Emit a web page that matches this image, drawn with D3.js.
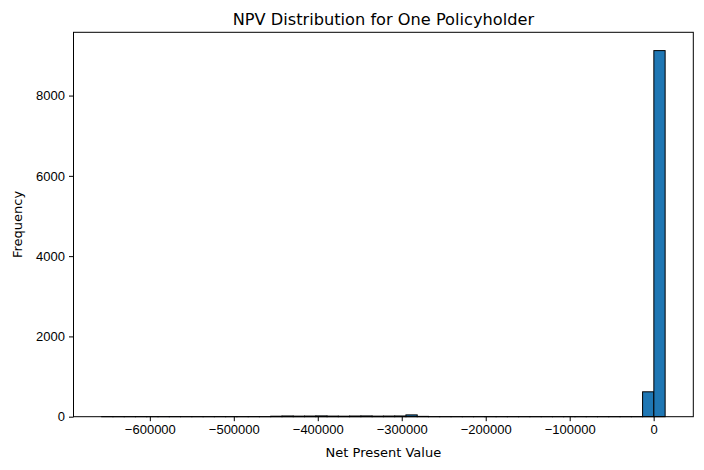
<!DOCTYPE html>
<html>
<head>
<meta charset="utf-8">
<script src="https://cdn.jsdelivr.net/npm/d3@7"></script>
<style>
  body { margin: 0; background: #fff; }
  svg { display: block; font-family: "DejaVu Sans", sans-serif; }
  .tick text { font-size: 13px; fill: #000; }
  .tick line { stroke: #000; }
</style>
</head>
<body>
<div id="chart"></div>
<script>
// histogram: 50 bins between xMin and xMax
const xMin = -657350;
const xMax = 13650;
const counts = [
    1, 0, 0, 1, 0, 0, 1, 0, 0, 0, 1, 0, 0, 1, 0,
    12, 18, 14, 16, 20, 15, 13, 17, 19, 14, 16, 18, 45, 8,
    0, 0, 0, 0, 0, 0, 0, 0, 0, 0, 0, 0, 0, 0, 0, 0, 0, 0, 0,
    620, 9120
];
const xTicks = [-600000, -500000, -400000, -300000, -200000, -100000, 0];
const yTicks = [0, 2000, 4000, 6000, 8000];

const width = 704;
const height = 470;
const margin = { top: 32.3, right: 10.7, bottom: 53.3, left: 73.5 };

const binWidth = (xMax - xMin) / counts.length;
const bins = counts.map((c, i) => ({ x0: xMin + i * binWidth, x1: xMin + (i + 1) * binWidth, n: c }));

const svg = d3.select("#chart")
    .append("svg")
    .attr("width", width)
    .attr("height", height);

// matplotlib style 5% padding
const pad = (xMax - xMin) * 0.05;
const xScale = d3.scaleLinear()
    .domain([xMin - pad, xMax + pad])
    .range([margin.left, width - margin.right]);

const yScale = d3.scaleLinear()
    .domain([0, d3.max(counts) * 1.05])
    .range([height - margin.bottom, margin.top]);

const fmt = d => d < 0 ? "\u2212" + Math.abs(d) : String(d);

svg.append("g")
    .attr("transform", `translate(0, ${height - margin.bottom})`)
    .call(d3.axisBottom(xScale).tickValues(xTicks).tickFormat(fmt).tickSize(4.5).tickPadding(4).tickSizeOuter(0))
    .call(g => g.select(".domain").remove());

svg.append("g")
    .attr("transform", `translate(${margin.left}, 0)`)
    .call(d3.axisLeft(yScale).tickValues(yTicks).tickFormat(d => String(d)).tickSize(4.5).tickPadding(4).tickSizeOuter(0))
    .call(g => g.select(".domain").remove());

svg.selectAll(".tick line").attr("stroke-width", 1);

svg.append("g")
    .selectAll("rect")
    .data(bins)
    .join("rect")
    .attr("x", d => xScale(d.x0))
    .attr("width", d => xScale(d.x1) - xScale(d.x0))
    .attr("y", d => yScale(d.n))
    .attr("height", d => Math.max(yScale(0) - yScale(d.n), 0.01))
    .attr("fill", "#1f77b4")
    .attr("stroke", "#000")
    .attr("stroke-width", 1);

// frame
svg.append("rect")
    .attr("x", margin.left)
    .attr("y", margin.top)
    .attr("width", width - margin.left - margin.right)
    .attr("height", height - margin.top - margin.bottom)
    .attr("fill", "none")
    .attr("stroke", "#000")
    .attr("stroke-width", 1);

svg.append("text")
    .attr("x", (margin.left + width - margin.right) / 2)
    .attr("y", 25)
    .attr("text-anchor", "middle")
    .attr("font-size", 16.2)
    .text("NPV Distribution for One Policyholder");

svg.append("text")
    .attr("x", (margin.left + width - margin.right) / 2)
    .attr("y", 457)
    .attr("text-anchor", "middle")
    .attr("font-size", 13)
    .text("Net Present Value");

svg.append("text")
    .attr("transform", `translate(22, ${(margin.top + height - margin.bottom) / 2}) rotate(-90)`)
    .attr("text-anchor", "middle")
    .attr("font-size", 13)
    .text("Frequency");
</script>
</body>
</html>
